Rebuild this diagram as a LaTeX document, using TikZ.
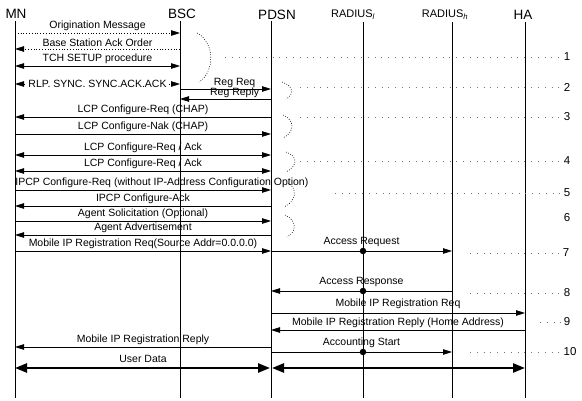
\documentclass[tikz,border=0pt]{standalone}
\usepackage{fontspec}
\setmainfont{Liberation Sans}
\usetikzlibrary{arrows.meta}

\begin{document}
\begin{tikzpicture}[x=1pt, y=-1pt,
    head/.style={font=\fontsize{13.5}{15}\selectfont, inner sep=1pt},
    rad/.style={font=\fontsize{11}{12}\selectfont, inner sep=1pt},
    lbl/.style={font=\fontsize{10.5}{11}\selectfont, inner sep=1.5pt},
    num/.style={font=\fontsize{11.5}{12}\selectfont, inner sep=1pt},
    life/.style={line width=1pt},
    arr/.style={-{Triangle[length=9pt,width=5.5pt]}, line width=0.8pt},
    darr/.style={{Triangle[length=9pt,width=5.5pt]}-{Triangle[length=9pt,width=5.5pt]}, line width=0.8pt},
    fat/.style={{Triangle[length=12pt,width=9pt]}-{Triangle[length=12pt,width=9pt]}, line width=2.4pt},
    brc/.style={dash pattern=on 0.8pt off 1.6pt, line width=0.6pt},
    lead/.style={dash pattern=on 0.8pt off 6pt, line width=0.6pt, black!55},
    hub/.style={circle, fill, inner sep=0pt, minimum size=6.5pt},
  ]
    \useasboundingbox (0,0) rectangle (582,401);
    % entities
    \node[head] (mn) at (16,14) {MN};
    \node[head] (bsc) at (182,14) {BSC};
    \node[head] (pdsn) at (277,15) {PDSN};
    \node[rad] (radl) at (353,15) {RADIUS\textsubscript{\itshape l}};
    \node[rad] (radh) at (445,15) {RADIUS\textsubscript{\itshape h}};
    \node[head] (ha) at (523,15) {HA};

    % lifelines
    \coordinate (lmn) at (15,21);
    \coordinate (lbsc) at (180,21);
    \coordinate (lpdsn) at (271,21);
    \coordinate (lradl) at (363,22);
    \coordinate (lradh) at (452,22);
    \coordinate (lha) at (525,22);
    \coordinate (bot) at (0,398);
    \draw[life] (lmn) -- (lmn |- bot);
    \draw[life] (lbsc) -- (lbsc |- bot);
    \draw[life] (lpdsn) -- (lpdsn |- bot);
    \draw[life] (lradl) -- (lradl |- bot);
    \draw[life] (lradh) -- (lradh |- bot);
    \draw[life] (lha) -- (lha |- bot);

    % message rows
    \coordinate (orig) at (0,33);
    \coordinate (ack) at (0,49);
    \coordinate (tch) at (0,66);
    \coordinate (rlp) at (0,84);
    \coordinate (rreq) at (0,89);
    \coordinate (rrep) at (0,99);
    \coordinate (lcp1) at (0,117);
    \coordinate (lcp2) at (0,134);
    \coordinate (lcp3) at (0,155);
    \coordinate (lcp4) at (0,171);
    \coordinate (ipcp1) at (0,190);
    \coordinate (ipcp2) at (0,206);
    \coordinate (sol) at (0,221);
    \coordinate (adv) at (0,235);
    \coordinate (mip1) at (0,251);
    \coordinate (acc1) at (0,291);
    \coordinate (mip2) at (0,313);
    \coordinate (mip3) at (0,330);
    \coordinate (mip4) at (0,347);
    \coordinate (acc2) at (0,352);
    \coordinate (data) at (0,368);

    % MN - BSC
    \draw[arr, dotted] (lmn |- orig) -- (lbsc |- orig) node[lbl, midway, above] {Origination Message};
    \draw[arr, dotted] (lbsc |- ack) -- (lmn |- ack) node[lbl, midway, above] {Base Station Ack Order};
    \draw[darr] (lmn |- tch) -- (lbsc |- tch) node[lbl, midway, above] {TCH SETUP procedure};
    \draw[darr, dotted] (lmn |- rlp) -- (lbsc |- rlp) node[lbl, midway, fill=white] {RLP. SYNC. SYNC.ACK.ACK};

    % BSC - PDSN
    \draw[arr] (lbsc |- rreq) -- (lpdsn |- rreq) node[lbl, pos=0.6, above=-1pt] {Reg Req};
    \draw[arr] (lpdsn |- rrep) -- (lbsc |- rrep) node[lbl, pos=0.4, above=-1pt] {Reg Reply};

    % MN - PDSN
    \draw[arr] (lpdsn |- lcp1) -- (lmn |- lcp1) node[lbl, midway, above] {LCP Configure-Req (CHAP)};
    \draw[arr] (lmn |- lcp2) -- (lpdsn |- lcp2) node[lbl, midway, above] {LCP Configure-Nak (CHAP)};
    \draw[darr] (lmn |- lcp3) -- (lpdsn |- lcp3) node[lbl, midway, above] {LCP Configure-Req / Ack};
    \draw[darr] (lmn |- lcp4) -- (lpdsn |- lcp4) node[lbl, midway, above] {LCP Configure-Req / Ack};
    \draw[arr] (lmn |- ipcp1) -- (lpdsn |- ipcp1) node[lbl, pos=0, above right, inner xsep=0pt] {IPCP Configure-Req (without IP-Address Configuration Option)};
    \draw[arr] (lpdsn |- ipcp2) -- (lmn |- ipcp2) node[lbl, midway, above] {IPCP Configure-Ack};
    \draw[arr] (lmn |- sol) -- (lpdsn |- sol) node[lbl, midway, above] {Agent Solicitation (Optional)};
    \draw[arr] (lpdsn |- adv) -- (lmn |- adv) node[lbl, midway, above] {Agent Advertisement};
    \draw[arr] (lmn |- mip1) -- (lpdsn |- mip1) node[lbl, midway, above] {Mobile IP Registration Req(Source Addr=0.0.0.0)};

    % PDSN - RADIUS - HA
    \draw[arr] (lpdsn |- mip1) -- (lradh |- mip1) node[lbl, midway, above=2pt] {Access Request};
    \node[hub] (h1) at (lradl |- mip1) {};
    \draw[arr] (lradh |- acc1) -- (lpdsn |- acc1) node[lbl, midway, above=2pt] {Access Response};
    \node[hub] (h2) at (lradl |- acc1) {};
    \draw[arr] (lpdsn |- mip2) -- (lha |- mip2) node[lbl, midway, above=2pt] {Mobile IP Registration Req};
    \draw[arr] (lha |- mip3) -- (lpdsn |- mip3) node[lbl, midway, above] {Mobile IP Registration Reply (Home Address)};
    \draw[arr] (lpdsn |- acc2) -- (lradh |- acc2) node[lbl, midway, above=2pt] {Accounting Start};
    \node[hub] (h3) at (lradl |- acc2) {};
    \draw[arr] (lpdsn |- mip4) -- (lmn |- mip4) node[lbl, midway, above] {Mobile IP Registration Reply};

    % user data
    \draw[fat, shorten >=1pt] (lmn |- data) -- (lpdsn |- data) node[lbl, midway, above=3pt] {User Data};
    \draw[fat, shorten <=1pt] (lpdsn |- data) -- (lha |- data);

    % groupings
    \draw[brc] (197,33) .. controls (215,42) and (215,72) .. (199,82);
    \draw[brc] (282,82) .. controls (294,86) and (294,95) .. (286,99);
    \draw[brc] (283,115) .. controls (295,120) and (295,132) .. (283,138);
    \draw[brc] (286,152) .. controls (298,156) and (298,166) .. (286,172);
    \draw[brc] (288,183) .. controls (298,188) and (296,202) .. (284,207);
    \draw[brc] (285,215) .. controls (297,220) and (297,232) .. (287,237);

    % steps
    \node[num] (n1) at (567,57) {1};
    \node[num] (n2) at (567,87) {2};
    \node[num] (n3) at (567,117) {3};
    \node[num] (n4) at (567,161) {4};
    \node[num] (n5) at (567,193) {5};
    \node[num] (n6) at (567,218) {6};
    \node[num] (n7) at (566,253) {7};
    \node[num] (n8) at (567,293) {8};
    \node[num] (n9) at (567,322) {9};
    \node[num] (n10) at (570,352) {10};
    \draw[lead] (225,57) -- (n1);
    \draw[lead] (300,87) -- (n2);
    \draw[lead] (300,117) -- (n3);
    \draw[lead] (300,161) -- (n4);
    \draw[lead] (335,193) -- (n5);
    \draw[lead] (470,253) -- (n7);
    \draw[lead] (470,293) -- (n8);
    \draw[lead] (540,322) -- (n9);
    \draw[lead] (470,352) -- (n10);
  \end{tikzpicture}
\end{document}
